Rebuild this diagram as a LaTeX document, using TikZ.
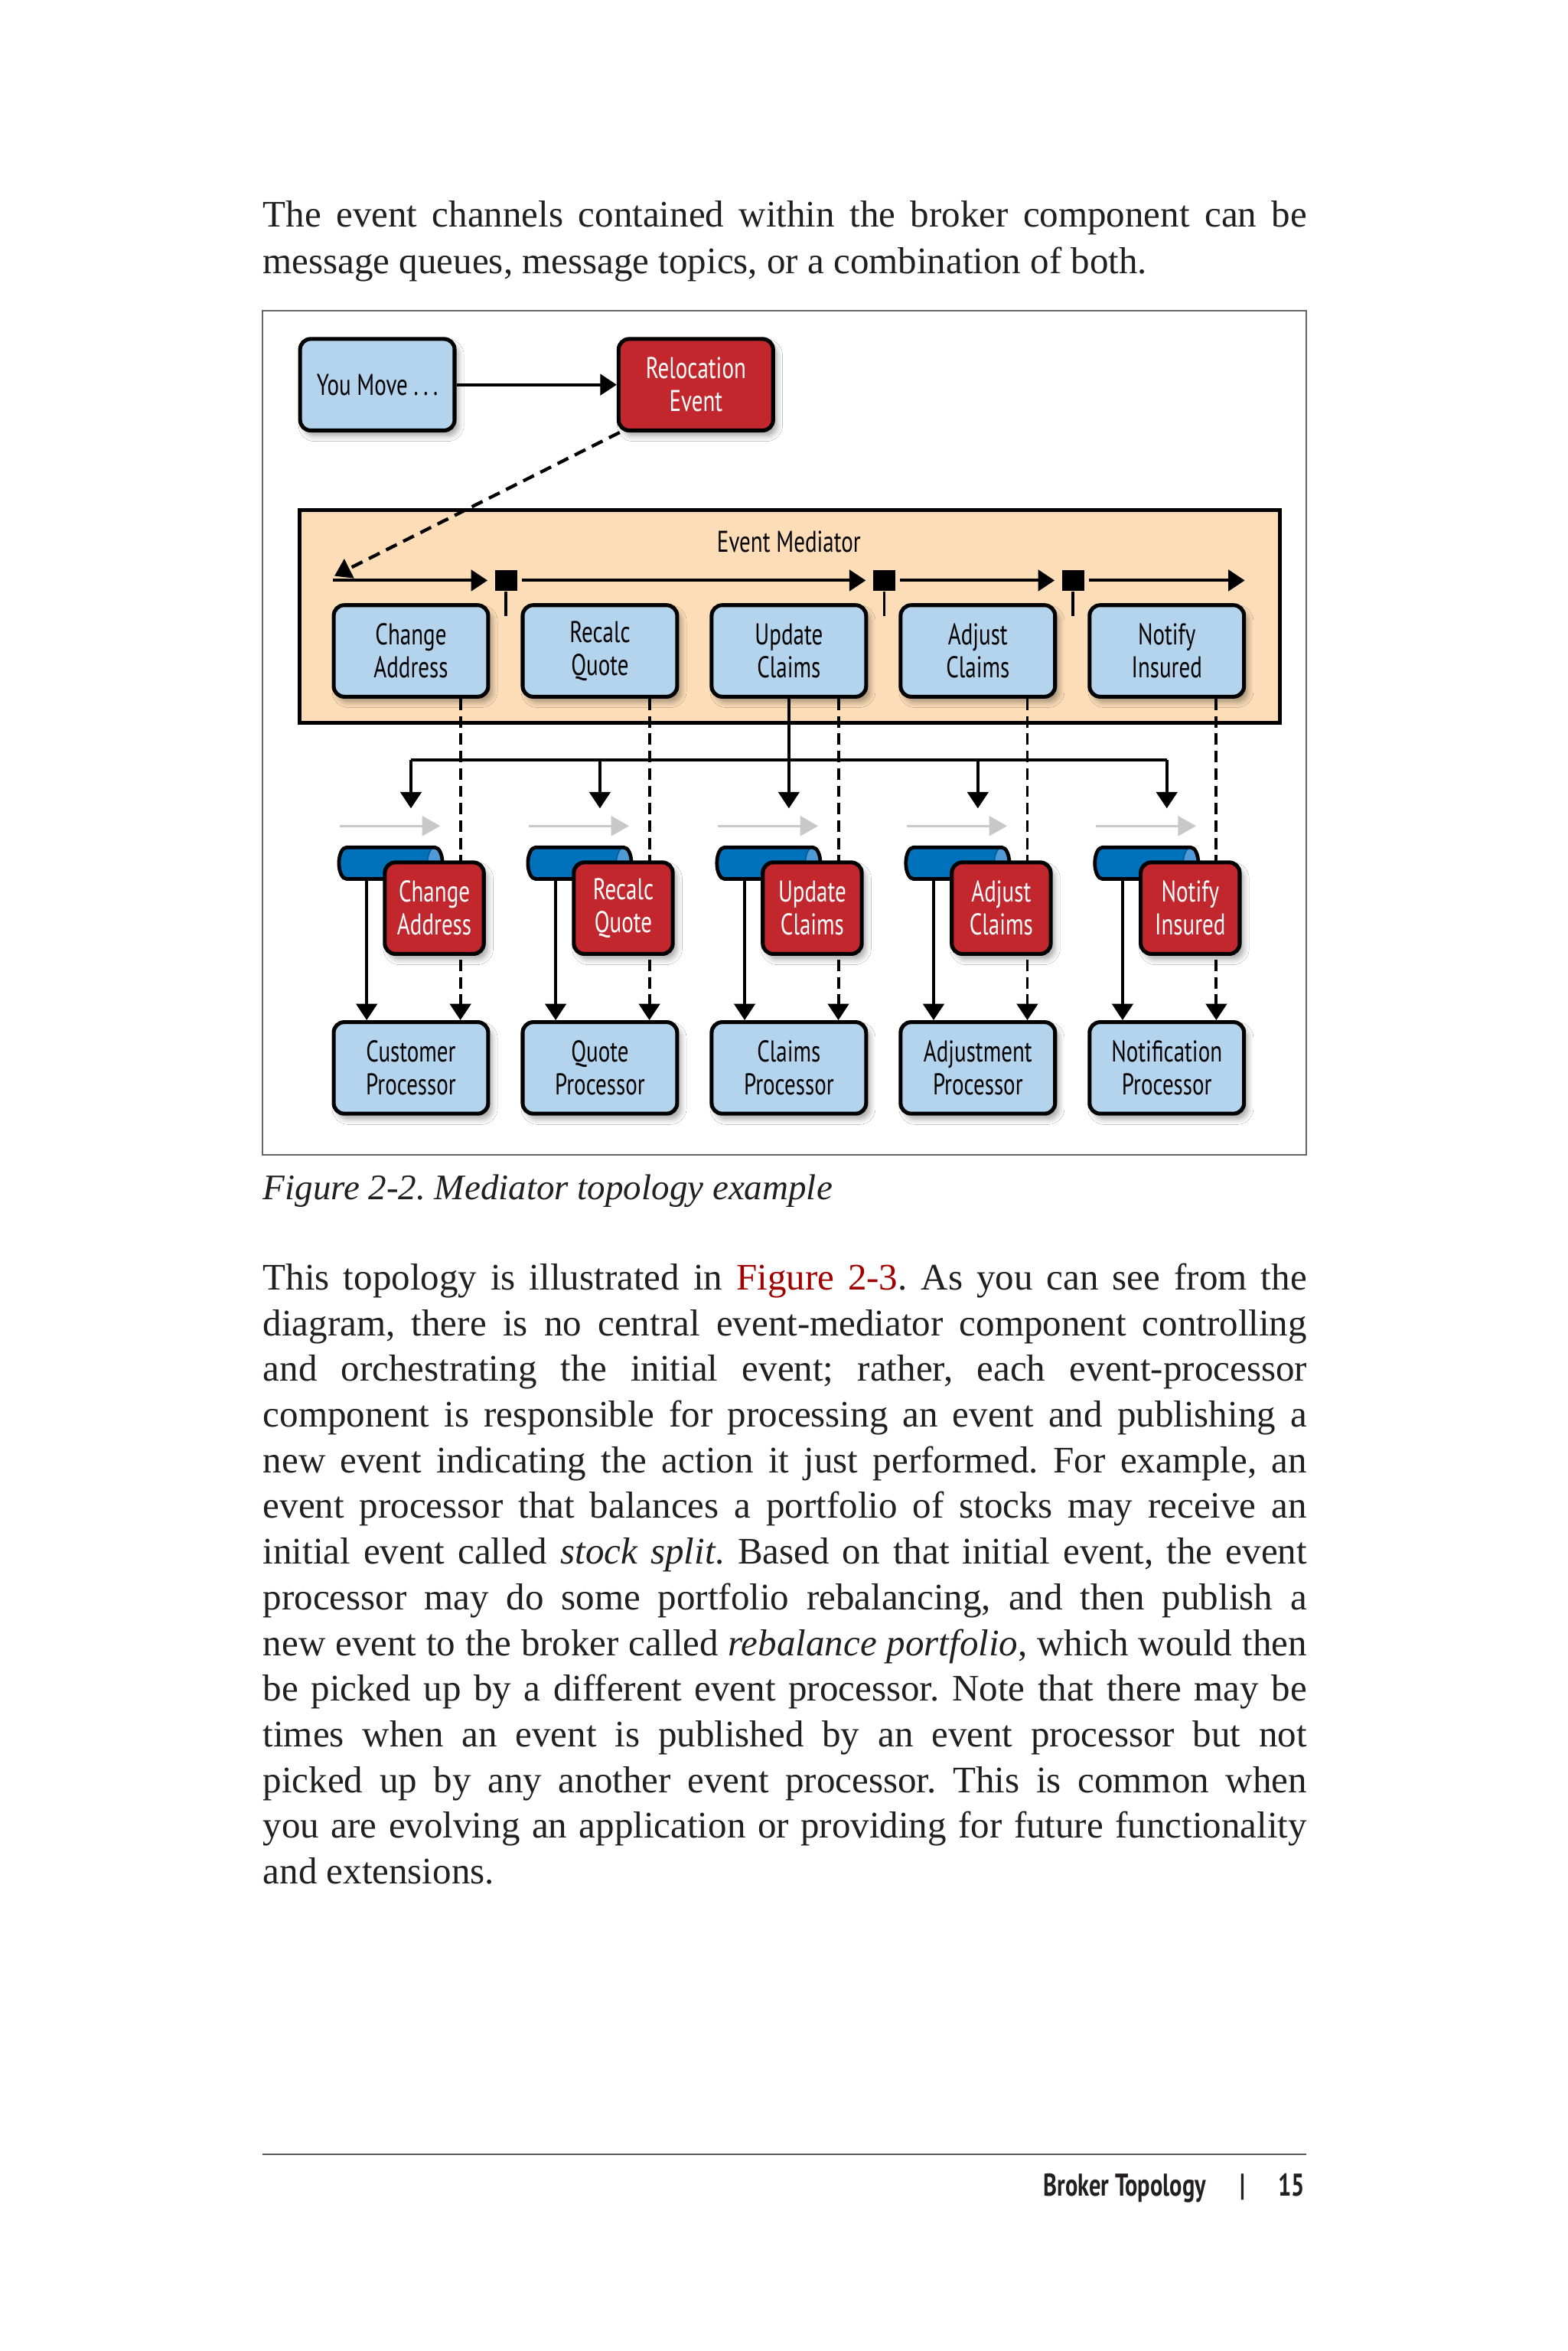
\documentclass[tikz,border=0pt]{standalone}
\usepackage{fontspec}
\setmainfont{Liberation Serif}
\newfontfamily\dfam[FakeStretch=0.74]{PT Sans}
\usetikzlibrary{arrows.meta,shadows.blur}
\definecolor{lblue}{HTML}{B3D4EC}
\definecolor{dred}{HTML}{C1272D}
\definecolor{peach}{HTML}{FCDDB7}
\definecolor{qblue}{HTML}{0072BC}
\definecolor{qcap}{HTML}{4F9AD6}
\definecolor{garrow}{HTML}{C8C8C8}
\definecolor{linkred}{HTML}{A00000}
\definecolor{ink}{HTML}{231F20}
\frenchspacing
\newcommand\diagfont{\dfam\fontsize{10}{11}\selectfont}
\newcommand\bodyfont{\fontsize{12.5}{15.3}\selectfont}
\newcommand\jline[2]{\node[anchor=base west, inner sep=0pt, font=\bodyfont, text=ink] at (175,#1) {\hbox to 348pt{#2}};}
\begin{document}
\begin{tikzpicture}[x=0.5pt,y=-0.5pt,
  conn/.style={line width=1pt},
  arr/.style={conn,-{Triangle[length=5.5pt,width=7pt]}},
  box/.style={draw, line width=1.3pt, rounded corners=3.5pt, align=center, inner sep=0pt, font=\diagfont,
    blur shadow={shadow xshift=1.3pt, shadow yshift=-1.8pt, shadow blur radius=1.8pt, shadow blur steps=6, shadow opacity=35}},
  bbox/.style={box, fill=lblue, minimum width=51.5pt, minimum height=30.5pt},
  rbox/.style={box, fill=dred, text=white, minimum width=33pt, minimum height=30.5pt},
  sqr/.style={fill=black, inner sep=0pt, minimum width=7.5pt, minimum height=7pt},
]
\useasboundingbox (0,0) rectangle (1045,1567.5);
\fill[white] (0,0) rectangle (1045,1567.5);

% intro text
\jline{151.5}{The event channels contained within the broker component can be}
\node[anchor=base west, inner sep=0pt, font=\bodyfont, text=ink] at (175,182.5) {message queues, message topics, or a combination of both.};

% frame
\draw[line width=0.5pt, black!60] (175,207) rectangle (871,770);

% top nodes
\node[bbox] (you) at (251.6,256.5) {You Move\ .\,.\,.};
\node[box, fill=dred, text=white, minimum width=51.5pt, minimum height=30.5pt] (reloc) at (464,256.5) {Relocation\\Event};
\draw[arr] (you) -- (reloc);

% mediator
\node[draw, line width=1.3pt, fill=peach, minimum width=327pt, minimum height=71pt, inner sep=0pt] (med) at (526.6,411) {};
\node[font=\diagfont, inner sep=0pt] (medlbl) at (526,361) {Event Mediator};

\foreach \i/\x/\ta/\tb/\pa in {1/274/Change/Address/Customer, 2/400/Recalc/Quote/Quote, 3/526/Update/Claims/Claims, 4/652/Adjust/Claims/Adjustment, 5/778/Notify/Insured/Notification}{
  \node[bbox] (m\i) at (\x,434) {\ta\\\tb};
  \node[bbox] (p\i) at (\x,712) {\pa\\Processor};
}

% channel inside mediator
\node[sqr] (sq1) at (337.4,387) {};
\node[sqr] (sq2) at (589.6,387) {};
\node[sqr] (sq3) at (715.5,387) {};
\coordinate (entry) at (222,387);
\coordinate (exit) at (830,387);
\draw[arr, shorten >=2.2pt] (entry) -- (sq1.west);
\draw[arr, shorten <=1.3pt, shorten >=2.2pt] (sq1.east) -- (sq2.west);
\draw[arr, shorten <=1.3pt, shorten >=2.2pt] (sq2.east) -- (sq3.west);
\draw[arr, shorten <=1.3pt] (sq3.east) -- (exit);
\foreach \j/\x in {1/337.4,2/589.6,3/715.5}{
  \coordinate (st\j) at (\x,411);
  \draw[conn] (sq\j.south) -- (st\j);
}
\coordinate (tipin) at (223,384);
\draw[arr, line width=1.1pt, dash pattern=on 4pt off 2.4pt] ([xshift=1pt]reloc.south west) -- (tipin);

% dashed lines mediator -> processors
\foreach \i in {1,...,5}{
  \draw[arr, dash pattern=on 3.8pt off 2pt] ([xshift=16.5pt]m\i.south) -- ([xshift=16.5pt]p\i.north);
}

% bus
\foreach \i/\x in {1/274,2/400,3/526,4/652,5/778}{
  \coordinate (bus\i) at (\x,506.6);
  \coordinate (in\i) at (\x,539);
}
\draw[conn] (m3.south) -- (bus3);
\draw[conn] (bus1) -- (bus5);
\foreach \i in {1,...,5}{
  \draw[arr] (bus\i) -- (in\i);
}

% queues, red boxes and arrows
\foreach \i/\x/\ta/\tb in {1/274/Change/Address, 2/400/Recalc/Quote, 3/526/Update/Claims, 4/652/Adjust/Claims, 5/778/Notify/Insured}{
  \coordinate (ga\i) at (\x-47.5,550.7);
  \coordinate (gb\i) at (\x+19.5,550.7);
  \draw[line width=0.8pt, garrow, -{Triangle[length=6pt,width=6.6pt]}] (ga\i) -- (gb\i);
  \fill[qblue] (\x+16,565) -- (\x-43,565) arc[start angle=90, end angle=270, x radius=2.5pt, y radius=5.25pt] -- (\x+16,586) arc[start angle=-90, end angle=90, x radius=2.5pt, y radius=5.25pt] -- cycle;
  \fill[qcap] (\x+16,575.5) ellipse[x radius=2.5pt, y radius=5.25pt];
  \draw[line width=0.4pt, qblue!80!black] (\x+16,575.5) ellipse[x radius=2.5pt, y radius=5.25pt];
  \draw[line width=1.2pt] (\x+16,565) -- (\x-43,565) arc[start angle=90, end angle=270, x radius=2.5pt, y radius=5.25pt] -- (\x+16,586) arc[start angle=-90, end angle=90, x radius=2.5pt, y radius=5.25pt] -- cycle;
  \coordinate (qb\i) at (\x-29.5,586.5);
  \node[rbox] (c\i) at (\x+15.6,605.5) {\ta\\\tb};
  \draw[arr] (qb\i) -- (p\i.north -| qb\i);
}

% caption
\node[anchor=base west, inner sep=0pt, font=\fontsize{12}{14}\selectfont\itshape, text=ink] at (175,800) {Figure 2-2. Mediator topology example};

% paragraph
\jline{860}{This topology is illustrated in \textcolor{linkred}{Figure 2-3}. As you can see from the}
\jline{890.46}{diagram, there is no central event-mediator component controlling}
\jline{920.92}{and orchestrating the initial event; rather, each event-processor}
\jline{951.38}{component is responsible for processing an event and publishing a}
\jline{981.84}{new event indicating the action it just performed. For example, an}
\jline{1012.3}{event processor that balances a portfolio of stocks may receive an}
\jline{1042.76}{initial event called \textit{stock split}. Based on that initial event, the event}
\jline{1073.22}{processor may do some portfolio rebalancing, and then publish a}
\jline{1103.68}{new event to the broker called \textit{rebalance portfolio}, which would then}
\jline{1134.14}{be picked up by a different event processor. Note that there may be}
\jline{1164.6}{times when an event is published by an event processor but not}
\jline{1195.06}{picked up by any another event processor. This is common when}
\jline{1225.52}{you are evolving an application or providing for future functionality}
\node[anchor=base west, inner sep=0pt, font=\bodyfont, text=ink] at (175,1256) {and extensions.};

% footer
\draw[line width=0.5pt, black!65] (175,1436.5) -- (871,1436.5);
\node[anchor=base east, inner sep=0pt, font=\dfam\bfseries\fontsize{10.5}{12}\selectfont, text=ink] (ftitle) at (804.5,1464) {Broker Topology};
\node[anchor=base, inner sep=0pt, font=\dfam\bfseries\fontsize{10.5}{12}\selectfont, text=ink] (fbar) at (828.7,1464) {|};
\node[anchor=base east, inner sep=0pt, font=\dfam\bfseries\fontsize{10.5}{12}\selectfont, text=ink] (fpage) at (870.5,1464) {15};
\end{tikzpicture}
\end{document}
